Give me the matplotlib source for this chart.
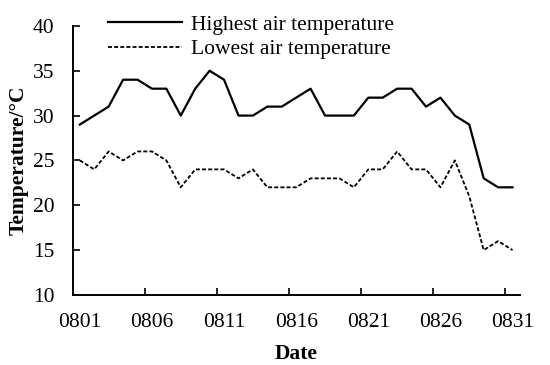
import numpy as np
import matplotlib
matplotlib.use("Agg")
import matplotlib.pyplot as plt

plt.rcParams['font.family'] = ['Liberation Serif', 'DejaVu Serif']

dates = ["08%02d" % d for d in range(1, 32)]
highest = [29, 30, 31, 34, 34, 33, 33, 30, 33, 35, 34, 30, 30, 31, 31, 32,
           33, 30, 30, 30, 32, 32, 33, 33, 31, 32, 30, 29, 23, 22, 22]
lowest = [25, 24, 26, 25, 26, 26, 25, 22, 24, 24, 24, 23, 24, 22, 22, 22,
          23, 23, 23, 22, 24, 24, 26, 24, 24, 22, 25, 21, 15, 16, 15]
label_every = 5

fig = plt.figure(figsize=(5.5, 3.65), dpi=100)
ax = fig.add_axes([0.132, 0.192, 0.813, 0.737])

x = np.arange(len(dates))
l1, = ax.plot(x, highest, color="black", lw=1.6, label="Highest air temperature")
l2, = ax.plot(x, lowest, color="black", lw=1.3, ls=(0, (2.2, 1.2)), label="Lowest air temperature")

ax.set_xlim(-0.5, len(dates) - 0.5)
ax.set_ylim(10, 40)
ax.set_yticks(range(10, 41, 5))

# labels centred on the category, tick marks on the boundary before it
lab_pos = x[::label_every]
ax.set_xticks(lab_pos - 0.5)
ax.set_xticklabels([])
ax.set_xticks(lab_pos, minor=True)
ax.set_xticklabels([dates[i] for i in lab_pos], minor=True)
ax.tick_params(axis="x", which="minor", length=0, pad=13, labelsize=15.5)
ax.tick_params(axis="x", which="major", direction="in", length=5, width=1.2)
ax.tick_params(axis="y", direction="in", length=5, width=1.2, labelsize=15.5, pad=13)

for s in ["top", "right"]:
    ax.spines[s].set_visible(False)
for s in ["left", "bottom"]:
    ax.spines[s].set_linewidth(1.4)

ax.set_xlabel("Date", fontsize=15.5, fontweight="bold", labelpad=9)
ax.set_ylabel("Temperature/\u00b0C", fontsize=15.5, fontweight="bold", labelpad=3)

fig.legend(handles=[l1, l2], loc="upper left", bbox_to_anchor=(0.196, 0.96),
           frameon=False, fontsize=15.5, handlelength=3.45, handletextpad=0.4,
           labelspacing=0.22, borderaxespad=0, borderpad=0)

fig.savefig("out.png", dpi=100)
